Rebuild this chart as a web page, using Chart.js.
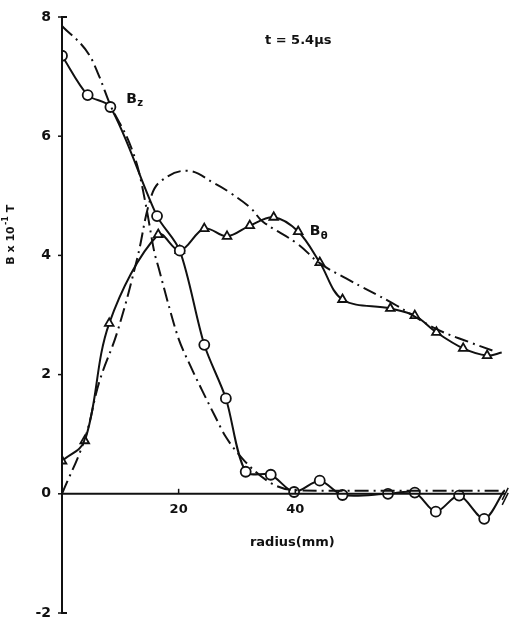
<!DOCTYPE html>
<html>
<head>
<meta charset="utf-8">
<script src="https://cdn.jsdelivr.net/npm/chart.js@4"></script>
<style>
  html, body { margin: 0; padding: 0; background: #fff; }
  #wrap { width: 512px; height: 623px; }
</style>
</head>
<body>
<div id="wrap"><canvas id="chart" width="512" height="623"></canvas></div>
<script>
// measured B_z (circles)
const bzR = [0, 4.4, 8.3, 16.3, 20.2, 24.4, 28.1, 31.5, 35.8, 39.8, 44.2, 48.1, 55.9, 60.5, 64.1, 68.1, 72.4, 75.8];
const bzB = [7.35, 6.69, 6.49, 4.66, 4.08, 2.5, 1.6, 0.37, 0.32, 0.03, 0.22, -0.02, 0, 0.02, -0.3, -0.03, -0.42, 0.05];

// measured B_theta (triangles)
const btR = [0, 3.9, 8.1, 16.5, 20.2, 24.4, 28.3, 32.2, 36.3, 40.5, 44.2, 48.1, 56.3, 60.5, 64.2, 68.8, 72.9, 75.4];
const btB = [0.55, 0.89, 2.86, 4.35, 4.08, 4.45, 4.32, 4.5, 4.64, 4.4, 3.88, 3.26, 3.11, 2.99, 2.71, 2.44, 2.32, 2.37];

// theory curves (dash-dot)
const bzTheoryR = [0, 4.7, 6.4, 8.3, 11.5, 13.2, 14.6, 15.8, 16.6, 18.3, 20, 22, 23.9, 26.2, 28, 31.4, 36, 40, 50, 60, 76];
const bzTheoryB = [7.85, 7.36, 7.0, 6.52, 5.9, 5.4, 4.73, 4.07, 3.78, 3.16, 2.6, 2.15, 1.76, 1.31, 0.97, 0.54, 0.17, 0.06, 0.05, 0.05, 0.05];
const btTheoryR = [0, 3.9, 6.4, 9.5, 12.9, 15.2, 17, 21.5, 26.3, 29, 32.4, 34.4, 40.3, 44.2, 48.8, 56.8, 64.1, 69.7, 74.2];
const btTheoryB = [0, 0.92, 1.88, 2.72, 3.95, 4.96, 5.25, 5.42, 5.2, 5.04, 4.79, 4.57, 4.2, 3.87, 3.61, 3.19, 2.77, 2.55, 2.39];

const yTicks = [8, 6, 4, 2, 0, -2];
const xTicks = [20, 40];

const font = '"DejaVu Sans", sans-serif';

function pts(xs, ys) {
    return xs.map((x, i) => ({ x: x, y: ys[i] }));
}

// last point of each measured line carries no marker
function radii(n, r) {
    const a = new Array(n).fill(r);
    a[n - 1] = 0;
    return a;
}

const axesPlugin = {
    id: 'axesPlugin',
    afterDraw(chart) {
        const ctx = chart.ctx;
        const xs = chart.scales.x;
        const ys = chart.scales.y;
        const x0 = xs.getPixelForValue(0);
        const y0 = ys.getPixelForValue(0);
        ctx.save();
        ctx.strokeStyle = '#111';
        ctx.fillStyle = '#111';
        ctx.lineWidth = 2;

        // y axis with small end caps
        ctx.beginPath();
        ctx.moveTo(x0 + 5, ys.getPixelForValue(8));
        ctx.lineTo(x0, ys.getPixelForValue(8));
        ctx.lineTo(x0, ys.getPixelForValue(-2));
        ctx.lineTo(x0 + 5, ys.getPixelForValue(-2));
        ctx.stroke();

        // x axis at zero
        ctx.beginPath();
        ctx.moveTo(x0, y0);
        ctx.lineTo(xs.getPixelForValue(76), y0);
        ctx.stroke();

        // axis break mark
        const xb = xs.getPixelForValue(76);
        ctx.lineWidth = 1.5;
        ctx.beginPath();
        ctx.moveTo(xb - 3, y0 + 6); ctx.lineTo(xb + 3, y0 - 6);
        ctx.moveTo(xb - 3, y0 + 11); ctx.lineTo(xb + 3, y0 - 1);
        ctx.stroke();

        // y ticks
        ctx.lineWidth = 1.5;
        ctx.font = 'bold 14px ' + font;
        ctx.textAlign = 'right';
        ctx.textBaseline = 'middle';
        yTicks.forEach(v => {
            const py = ys.getPixelForValue(v);
            ctx.beginPath();
            ctx.moveTo(x0 - 4, py);
            ctx.lineTo(x0, py);
            ctx.stroke();
            ctx.fillText(v === -2 ? '-2' : String(v), x0 - 11, py);
        });

        // x ticks
        ctx.font = 'bold 13px ' + font;
        ctx.textAlign = 'center';
        ctx.textBaseline = 'top';
        xTicks.forEach(v => {
            const px = xs.getPixelForValue(v);
            ctx.beginPath();
            ctx.moveTo(px, y0 - 5);
            ctx.lineTo(px, y0);
            ctx.stroke();
            ctx.fillText(String(v), px, y0 + 9);
        });

        // axis titles
        ctx.font = 'bold 13px ' + font;
        ctx.fillText('radius(mm)', xs.getPixelForValue(39.5), y0 + 42);

        ctx.save();
        ctx.translate(11, ys.getPixelForValue(4.3));
        ctx.rotate(-Math.PI / 2);
        ctx.textAlign = 'center';
        ctx.textBaseline = 'middle';
        ctx.font = 'bold 11px ' + font;
        ctx.fillText('B x 10', -8, 0);
        ctx.font = 'bold 8px ' + font;
        ctx.fillText('-1', 17, -5);
        ctx.font = 'bold 11px ' + font;
        ctx.fillText('T', 29, 0);
        ctx.restore();

        // annotations
        ctx.textAlign = 'left';
        ctx.textBaseline = 'middle';
        ctx.font = 'bold 13px ' + font;
        ctx.fillText('t = 5.4\u00b5s', xs.getPixelForValue(34.8), ys.getPixelForValue(7.6));

        ctx.font = 'bold 14px ' + font;
        ctx.fillText('B', xs.getPixelForValue(11), ys.getPixelForValue(6.62));
        ctx.font = 'bold 10px ' + font;
        ctx.fillText('z', xs.getPixelForValue(11) + 11, ys.getPixelForValue(6.55));

        ctx.font = 'bold 14px ' + font;
        ctx.fillText('B', xs.getPixelForValue(42.5), ys.getPixelForValue(4.4));
        ctx.font = 'bold 10px ' + font;
        ctx.fillText('\u03b8', xs.getPixelForValue(42.5) + 11, ys.getPixelForValue(4.32));

        ctx.restore();
    }
};

new Chart(document.getElementById('chart').getContext('2d'), {
    type: 'scatter',
    data: {
        datasets: [
            {
                label: 'Bz theory',
                data: pts(bzTheoryR, bzTheoryB),
                showLine: true,
                borderColor: '#111',
                borderWidth: 2,
                borderDash: [14, 5, 2, 5],
                pointRadius: 0,
                tension: 0.4,
                cubicInterpolationMode: 'monotone'
            },
            {
                label: 'Btheta theory',
                data: pts(btTheoryR, btTheoryB),
                showLine: true,
                borderColor: '#111',
                borderWidth: 2,
                borderDash: [14, 5, 2, 5],
                pointRadius: 0,
                tension: 0.4
            },
            {
                label: 'Bz',
                data: pts(bzR, bzB),
                showLine: true,
                borderColor: '#111',
                borderWidth: 2,
                pointStyle: 'circle',
                pointRadius: radii(bzR.length, 5),
                pointBackgroundColor: '#fff',
                pointBorderColor: '#111',
                pointBorderWidth: 1.8,
                tension: 0.3
            },
            {
                label: 'Btheta',
                data: pts(btR, btB),
                showLine: true,
                borderColor: '#111',
                borderWidth: 2,
                pointStyle: 'triangle',
                pointRadius: radii(btR.length, 5),
                pointBackgroundColor: '#fff',
                pointBorderColor: '#111',
                pointBorderWidth: 1.8,
                tension: 0.35
            }
        ]
    },
    options: {
        responsive: false,
        animation: false,
        layout: { padding: { left: 62, top: 17, right: 2, bottom: 10 } },
        plugins: {
            legend: { display: false },
            tooltip: { enabled: false }
        },
        scales: {
            x: { type: 'linear', min: 0, max: 76, display: false },
            y: { type: 'linear', min: -2, max: 8, display: false }
        }
    },
    plugins: [axesPlugin]
});
</script>
</body>
</html>
